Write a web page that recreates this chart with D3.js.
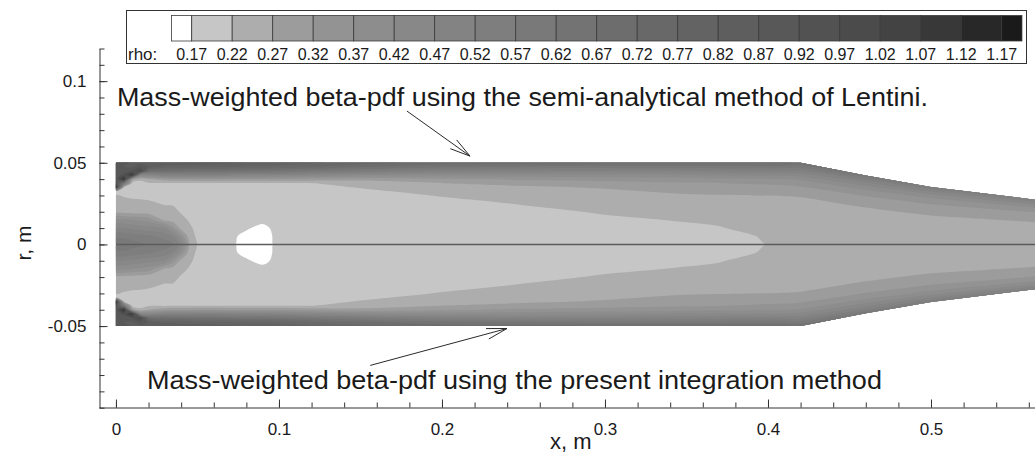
<!DOCTYPE html>
<html>
<head>
<meta charset="utf-8">
<script src="https://cdn.jsdelivr.net/npm/d3@7"></script>
<style>
  body { margin: 0; background: #fff; }
  svg { display: block; }
  text { font-family: "Liberation Sans", Arial, Helvetica, sans-serif; fill: #1a1a1a; }
</style>
</head>
<body>
<svg id="chart" width="1035" height="455"></svg>
<script>
// Axial stations of the density field (m)
const xStations = [0, 0.005, 0.01, 0.015, 0.02, 0.03, 0.035, 0.04, 0.045, 0.05, 0.06, 0.07, 0.08, 0.09,
  0.1, 0.12, 0.15, 0.2, 0.25, 0.3, 0.35, 0.37, 0.39, 0.41, 0.42, 0.46, 0.5, 0.55, 0.6];
// Normalised radius r / R(x), axis to wall
const etaStations = [0, 0.1, 0.2, 0.3, 0.4, 0.5, 0.6, 0.65, 0.7, 0.75, 0.8, 0.85, 0.9, 0.95, 1.0];
// Density rho (kg/m^3): one radial profile per axial station
const rhoProfiles = [
  [0.60, 0.56, 0.47, 0.38, 0.25, 0.24, 0.225, 0.195, 1.12, 0.95, 0.90, 0.88, 0.88, 0.89, 0.90],
  [0.60, 0.56, 0.47, 0.38, 0.25, 0.24, 0.215, 0.20, 0.20, 0.60, 1.12, 0.95, 0.88, 0.87, 0.88],
  [0.59, 0.55, 0.46, 0.37, 0.25, 0.235, 0.21, 0.20, 0.20, 0.20, 0.30, 1.10, 0.92, 0.86, 0.86],
  [0.58, 0.54, 0.45, 0.36, 0.245, 0.232, 0.21, 0.20, 0.20, 0.205, 0.23, 0.45, 1.00, 0.92, 0.85],
  [0.57, 0.53, 0.44, 0.35, 0.24, 0.23, 0.205, 0.20, 0.20, 0.215, 0.27, 0.45, 0.70, 0.86, 0.85],
  [0.55, 0.50, 0.42, 0.26, 0.24, 0.215, 0.20, 0.195, 0.20, 0.215, 0.30, 0.50, 0.68, 0.80, 0.86],
  [0.53, 0.47, 0.34, 0.245, 0.235, 0.215, 0.20, 0.195, 0.20, 0.215, 0.31, 0.50, 0.67, 0.80, 0.86],
  [0.45, 0.36, 0.25, 0.235, 0.215, 0.205, 0.20, 0.195, 0.20, 0.215, 0.31, 0.50, 0.67, 0.79, 0.86],
  [0.27, 0.245, 0.23, 0.215, 0.205, 0.20, 0.198, 0.195, 0.20, 0.215, 0.31, 0.50, 0.66, 0.79, 0.85],
  [0.215, 0.21, 0.205, 0.20, 0.198, 0.196, 0.195, 0.195, 0.20, 0.215, 0.32, 0.50, 0.66, 0.78, 0.85],
  [0.20, 0.20, 0.20, 0.198, 0.195, 0.195, 0.195, 0.197, 0.20, 0.215, 0.32, 0.50, 0.66, 0.78, 0.84],
  [0.178, 0.18, 0.185, 0.19, 0.192, 0.194, 0.196, 0.198, 0.202, 0.216, 0.31, 0.49, 0.65, 0.77, 0.83],
  [0.155, 0.158, 0.175, 0.185, 0.19, 0.193, 0.196, 0.198, 0.202, 0.216, 0.31, 0.48, 0.64, 0.76, 0.82],
  [0.148, 0.15, 0.158, 0.182, 0.19, 0.193, 0.196, 0.198, 0.203, 0.217, 0.31, 0.48, 0.64, 0.76, 0.81],
  [0.183, 0.184, 0.186, 0.19, 0.193, 0.195, 0.197, 0.20, 0.205, 0.217, 0.31, 0.47, 0.63, 0.75, 0.80],
  [0.19, 0.19, 0.191, 0.193, 0.195, 0.197, 0.20, 0.204, 0.21, 0.219, 0.30, 0.45, 0.60, 0.72, 0.78],
  [0.195, 0.195, 0.196, 0.198, 0.20, 0.203, 0.208, 0.214, 0.222, 0.235, 0.29, 0.42, 0.57, 0.68, 0.74],
  [0.20, 0.20, 0.201, 0.203, 0.206, 0.21, 0.222, 0.23, 0.245, 0.27, 0.31, 0.40, 0.52, 0.63, 0.70],
  [0.204, 0.205, 0.206, 0.208, 0.212, 0.222, 0.235, 0.245, 0.262, 0.285, 0.33, 0.40, 0.50, 0.61, 0.69],
  [0.208, 0.209, 0.211, 0.215, 0.223, 0.235, 0.25, 0.262, 0.275, 0.30, 0.34, 0.41, 0.50, 0.60, 0.68],
  [0.211, 0.212, 0.215, 0.222, 0.23, 0.24, 0.265, 0.28, 0.295, 0.315, 0.35, 0.42, 0.50, 0.60, 0.68],
  [0.213, 0.215, 0.219, 0.223, 0.232, 0.242, 0.268, 0.282, 0.298, 0.318, 0.355, 0.425, 0.505, 0.60, 0.68],
  [0.217, 0.219, 0.224, 0.229, 0.236, 0.246, 0.27, 0.286, 0.304, 0.325, 0.36, 0.43, 0.51, 0.60, 0.68],
  [0.224, 0.226, 0.23, 0.234, 0.24, 0.25, 0.272, 0.29, 0.31, 0.33, 0.37, 0.43, 0.51, 0.60, 0.68],
  [0.225, 0.227, 0.23, 0.235, 0.242, 0.252, 0.275, 0.295, 0.315, 0.34, 0.38, 0.44, 0.51, 0.59, 0.66],
  [0.23, 0.232, 0.235, 0.24, 0.248, 0.262, 0.285, 0.30, 0.32, 0.345, 0.375, 0.42, 0.47, 0.53, 0.60],
  [0.235, 0.237, 0.24, 0.245, 0.255, 0.27, 0.29, 0.305, 0.32, 0.34, 0.365, 0.40, 0.44, 0.50, 0.56],
  [0.238, 0.24, 0.243, 0.25, 0.258, 0.27, 0.288, 0.30, 0.315, 0.335, 0.36, 0.39, 0.43, 0.48, 0.53],
  [0.24, 0.242, 0.245, 0.252, 0.26, 0.272, 0.29, 0.30, 0.314, 0.332, 0.355, 0.385, 0.42, 0.47, 0.51]
];
// Contour levels and their legend labels
const rhoLevels = [0.17, 0.22, 0.27, 0.32, 0.37, 0.42, 0.47, 0.52, 0.57, 0.62, 0.67,
  0.72, 0.77, 0.82, 0.87, 0.92, 0.97, 1.02, 1.07, 1.12, 1.17];
const levelLabels = rhoLevels.map(v => v.toFixed(2));
// Grey fill of each band: below the first level, between levels, above the last
const bandColors = ["#ffffff", "#c6c6c6", "#adadad", "#9c9c9c", "#939393", "#8d8d8d", "#888888",
  "#838383", "#7e7e7e", "#797979", "#737373", "#6d6d6d", "#686868", "#636363", "#5e5e5e",
  "#585858", "#525252", "#4b4b4b", "#434343", "#383838", "#282828", "#1a1a1a"];
// Wall contour: chamber radius then convergent nozzle (m)
const wallX = [0, 0.42, 0.46, 0.5, 0.564, 0.6];
const wallR = [0.05, 0.05, 0.0422, 0.0352, 0.0274, 0.0235];
// Axis ticks
const xTicks = [0, 0.1, 0.2, 0.3, 0.4, 0.5];
const xTickLabels = ["0", "0.1", "0.2", "0.3", "0.4", "0.5"];
const xMinorTicks = d3.range(0, 29).map(k => k / 50);
const yTicks = [0.1, 0.05, 0, -0.05];
const yTickLabels = ["0.1", "0.05", "0", "-0.05"];
const yMinorTicks = d3.range(-10, 13).map(k => k / 100);

const svg = d3.select("#chart");
const xScale = d3.scaleLinear().domain([-0.0104, 0.5638]).range([99, 1035]);
const yScale = d3.scaleLinear().domain([-0.1, 0.12]).range([407.7, 48.5]);

// ---- density field -> filled contour bands ----
const nx = xStations.length, ny = etaStations.length;
const grid = new Array(nx * ny);
for (let j = 0; j < ny; j++) for (let i = 0; i < nx; i++) grid[i + j * nx] = rhoProfiles[i][j];
const bands = d3.contours().size([nx, ny]).thresholds(rhoLevels)(grid);

const xOfIdx = d3.scaleLinear().domain(d3.range(nx)).range(xStations);
const etaOfIdx = d3.scaleLinear().domain(d3.range(ny)).range(etaStations);
const wallRadius = d3.scaleLinear().domain(wallX).range(wallR);
const ringLine = d3.line().curve(d3.curveCatmullRomClosed.alpha(0.5));

function bandPath(geom, side) {
  let d = "";
  geom.coordinates.forEach(poly => poly.forEach(ring => {
    const pts = ring.map(([cx, cy]) => {
      const xm = xOfIdx(cx - 0.5);
      const eta = etaOfIdx(cy - 0.5);
      return [xScale(xm), yScale(side * eta * wallRadius(xm))];
    });
    const a = pts[0], b = pts[pts.length - 1];
    if (pts.length > 2 && a[0] === b[0] && a[1] === b[1]) pts.pop();
    d += ringLine(pts);
  }));
  return d;
}

const defs = svg.append("defs");
[1, -1].forEach(side => {
  const id = side > 0 ? "upper-half" : "lower-half";
  const outline = [[0, 0]]
    .concat(wallX.map((x, i) => [x, side * wallR[i]]))
    .concat([[wallX[wallX.length - 1], 0]])
    .map(([x, r]) => [xScale(x), yScale(r)]);
  const outlinePath = d3.line()(outline) + "Z";
  defs.append("clipPath").attr("id", id).append("path").attr("d", outlinePath);
  const g = svg.append("g").attr("clip-path", `url(#${id})`);
  g.append("path").attr("d", outlinePath).attr("fill", bandColors[0]);
  g.selectAll("path.band").data(bands).join("path")
    .attr("class", "band")
    .attr("fill-rule", "evenodd")
    .attr("fill", (c, i) => bandColors[i + 1])
    .attr("d", c => bandPath(c, side));
});

// centre line
svg.append("line")
  .attr("x1", xScale(0)).attr("x2", xScale(0.6))
  .attr("y1", yScale(0)).attr("y2", yScale(0))
  .attr("stroke", "#5c5c5c").attr("stroke-width", 1.6);

// ---- axes ----
const axisColor = "#333";
const fontFamily = '"Liberation Sans", Arial, Helvetica, sans-serif';
const yAxisX = 99.5, xAxisY = 407.5;

function styleLabels(g) {
  g.attr("font-size", 17).attr("font-family", fontFamily);
  g.selectAll("text").attr("fill", "#1a1a1a");
}

svg.append("g").attr("transform", `translate(${yAxisX},0)`).attr("color", axisColor)
  .call(d3.axisLeft(yScale).tickValues(yMinorTicks).tickSize(-5).tickSizeOuter(0).tickFormat(""))
  .call(g => g.selectAll("text").remove());
svg.append("g").attr("transform", `translate(${yAxisX},0)`).attr("color", axisColor)
  .call(d3.axisLeft(yScale).tickValues(yTicks).tickSize(-8).tickSizeOuter(0).tickPadding(13)
    .tickFormat((d, i) => yTickLabels[i]))
  .call(g => g.select(".domain").remove())
  .call(styleLabels);

svg.append("g").attr("transform", `translate(0,${xAxisY})`).attr("color", axisColor)
  .call(d3.axisBottom(xScale).tickValues(xMinorTicks).tickSize(-5).tickSizeOuter(0).tickFormat(""))
  .call(g => g.selectAll("text").remove());
svg.append("g").attr("transform", `translate(0,${xAxisY})`).attr("color", axisColor)
  .call(d3.axisBottom(xScale).tickValues(xTicks).tickSize(-8).tickSizeOuter(0).tickPadding(15)
    .tickFormat((d, i) => xTickLabels[i]))
  .call(g => g.select(".domain").remove())
  .call(styleLabels);

svg.append("text").attr("x", 550).attr("y", 449).attr("font-size", 22).text("x, m");
svg.append("text").attr("transform", "translate(31,243) rotate(-90)")
  .attr("text-anchor", "middle").attr("font-size", 21).text("r, m");

// ---- legend ----
const legendX = d3.scaleLinear().domain([0, rhoLevels.length - 1]).range([191.7, 1001.7]);
const legend = svg.append("g");
legend.append("rect").attr("x", 126.5).attr("y", 10.5).attr("width", 900).attr("height", 53)
  .attr("fill", "#fff").attr("stroke", "#333").attr("stroke-width", 1);
const last = rhoLevels.length - 1;
legend.selectAll("rect.swatch").data(bandColors).join("rect")
  .attr("class", "swatch")
  .attr("x", (c, k) => legendX(Math.max(k - 1, -0.5)))
  .attr("width", (c, k) => legendX(Math.min(k, last + 0.5)) - legendX(Math.max(k - 1, -0.5)))
  .attr("y", 15.5).attr("height", 25.5)
  .attr("fill", c => c).attr("stroke", "#3a3a3a").attr("stroke-width", 0.8);
legend.selectAll("text.lvl").data(levelLabels).join("text")
  .attr("class", "lvl")
  .attr("x", (t, i) => legendX(i)).attr("y", 60)
  .attr("text-anchor", "middle").attr("font-size", 16).text(t => t);
legend.append("text").attr("x", 128).attr("y", 60).attr("font-size", 17).text("rho:");

// ---- annotations ----
function arrow(x0, r0, x1, r1) {
  const p0 = [xScale(x0), yScale(r0)], p1 = [xScale(x1), yScale(r1)];
  const ang = Math.atan2(p1[1] - p0[1], p1[0] - p0[0]);
  const len = 21, spread = 0.26;
  const barb = s => [p1[0] - len * Math.cos(ang + s), p1[1] - len * Math.sin(ang + s)];
  const g = svg.append("g").attr("stroke", "#2a2a2a").attr("stroke-width", 1).attr("fill", "none");
  g.append("path").attr("d", d3.line()([p0, p1]));
  g.append("path").attr("d", d3.line()([barb(spread), p1, barb(-spread)]));
}
svg.append("text").attr("x", xScale(0.0006)).attr("y", yScale(0.0848))
  .attr("font-size", 26).attr("textLength", 811).attr("lengthAdjust", "spacingAndGlyphs")
  .text("Mass-weighted beta-pdf using the semi-analytical method of Lentini.");
arrow(0.1785, 0.0817, 0.2172, 0.0541);
svg.append("text").attr("x", xScale(0.019)).attr("y", yScale(-0.0886))
  .attr("font-size", 26).attr("textLength", 735).attr("lengthAdjust", "spacingAndGlyphs")
  .text("Mass-weighted beta-pdf using the present integration method");
arrow(0.156, -0.0741, 0.2399, -0.0515);
</script>
</body>
</html>
